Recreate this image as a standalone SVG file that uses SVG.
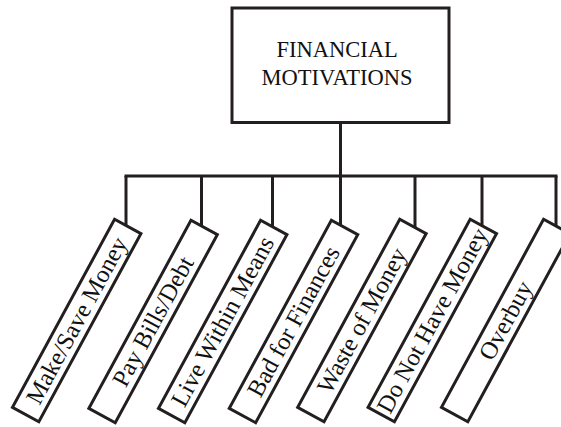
<svg xmlns="http://www.w3.org/2000/svg" width="561" height="427" viewBox="0 0 561 427">
  <style>
    .box { fill: #ffffff; stroke: #231f20; stroke-width: 3; }
    .wire { fill: none; stroke: #231f20; stroke-width: 3; }
    .lbl { font-family: "Liberation Serif", "Times New Roman", serif; font-size: 22.5px; fill: #111111; text-anchor: middle; }
    .leaf { font-size: 24.5px; }
  </style>
  <rect width="561" height="427" fill="#ffffff"/>

  <!-- tree connectors -->
  <g id="connectors" class="wire">
    <line x1="340.5" y1="123" x2="340.5" y2="176"/>
    <line x1="124.5" y1="176" x2="557.5" y2="176"/>
    <line x1="126" y1="176" x2="126" y2="232"/>
    <line x1="201.5" y1="176" x2="201.5" y2="232"/>
    <line x1="272.5" y1="176" x2="272.5" y2="232"/>
    <line x1="340.5" y1="176" x2="340.5" y2="232"/>
    <line x1="415" y1="176" x2="415" y2="232"/>
    <line x1="482" y1="176" x2="482" y2="232"/>
    <line x1="556" y1="176" x2="556" y2="232"/>
  </g>

  <!-- root -->
  <g id="root">
    <rect class="box" x="232" y="8" width="217" height="114.5"/>
    <text class="lbl" x="337" y="57">FINANCIAL</text>
    <text class="lbl" x="337" y="85">MOTIVATIONS</text>
  </g>

  <!-- leaves, tilted -->
  <g id="make-save-money" transform="translate(76.7 320.5) rotate(-61.5)">
    <rect class="box" x="-107" y="-15" width="214" height="30"/>
    <text class="lbl leaf" y="8">Make/Save Money</text>
  </g>
  <g id="pay-bills-debt" transform="translate(153.1 321.5) rotate(-61.5)">
    <rect class="box" x="-107" y="-15" width="214" height="30"/>
    <text class="lbl leaf" y="8">Pay Bills/Debt</text>
  </g>
  <g id="live-within-means" transform="translate(222.7 321.5) rotate(-61.5)">
    <rect class="box" x="-107" y="-15" width="214" height="30"/>
    <text class="lbl leaf" y="8">Live Within Means</text>
  </g>
  <g id="bad-for-finances" transform="translate(293.5 321.5) rotate(-61.5)">
    <rect class="box" x="-107" y="-15" width="214" height="30"/>
    <text class="lbl leaf" y="8">Bad for Finances</text>
  </g>
  <g id="waste-of-money" transform="translate(361.9 320.5) rotate(-61.5)">
    <rect class="box" x="-107" y="-15" width="214" height="30"/>
    <text class="lbl leaf" y="8">Waste of Money</text>
  </g>
  <g id="do-not-have-money" transform="translate(432.3 320.5) rotate(-61.5)">
    <rect class="box" x="-107" y="-15" width="214" height="30"/>
    <text class="lbl leaf" y="8">Do Not Have Money</text>
  </g>
  <g id="overbuy" transform="translate(505.7 320.5) rotate(-61.5)">
    <rect class="box" x="-107" y="-15" width="214" height="30"/>
    <text class="lbl leaf" y="8">Overbuy</text>
  </g>
</svg>
